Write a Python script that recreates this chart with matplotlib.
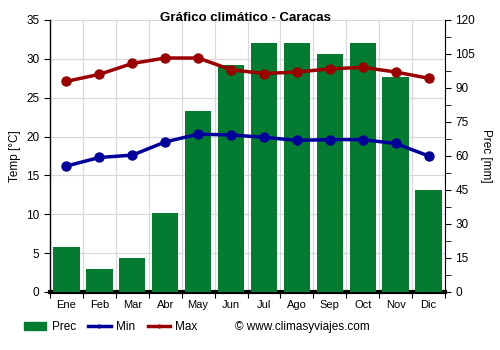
import numpy as np
import matplotlib.pyplot as plt
from matplotlib.lines import Line2D
from matplotlib.patches import Patch

plt.rcParams['font.family'] = ['Liberation Sans', 'DejaVu Sans']

months = ['Ene', 'Feb', 'Mar', 'Abr', 'May', 'Jun', 'Jul', 'Ago', 'Sep', 'Oct', 'Nov', 'Dic']
prec = [20, 10, 15, 35, 80, 100, 110, 110, 105, 110, 95, 45]
t_min = [16.2, 17.3, 17.6, 19.3, 20.3, 20.2, 19.9, 19.5, 19.6, 19.6, 19.1, 17.5]
t_max = [27.1, 28.0, 29.4, 30.1, 30.1, 28.6, 28.1, 28.3, 28.7, 28.9, 28.3, 27.5]

green = '#037b30'
blue = '#00009a'
red = '#9a0000'
grid_c = '#d9d9d9'

fig = plt.figure(figsize=(5, 3.5), dpi=100)
ax = fig.add_axes([0.1, 0.166, 0.79, 0.777])
ax2 = ax.twinx()

x = np.arange(len(months))

# grid and temperature scale on the left axes
ax.set_xlim(-0.5, 11.5)
ax.set_ylim(0, 35)
ax.set_yticks(range(0, 36, 5))
ax.set_xticks(np.arange(-0.5, 12, 1))
ax.set_xticklabels([])
ax.set_xticks(x, minor=True)
ax.set_xticklabels(months, minor=True)
ax.tick_params(axis='x', which='minor', length=0, labelsize=8, pad=6)
ax.tick_params(axis='x', which='major', length=4, color='black')
ax.tick_params(axis='y', labelsize=8.5, length=4)
ax.grid(True, color=grid_c, linewidth=0.9)
ax.set_axisbelow(True)
for s in ['top', 'right']:
    ax.spines[s].set_visible(False)
ax.spines['bottom'].set_linewidth(3)
ax.spines['left'].set_linewidth(1)
ax.set_ylabel('Temp [°C]', fontsize=8.5)

# precipitation bars on the right axes
ax2.bar(x, prec, width=0.8, color=green, zorder=2)
ax2.set_ylim(0, 120)
ax2.set_yticks(range(0, 121, 15))
ax2.set_yticks(np.arange(7.5, 120, 15), minor=True)
ax2.tick_params(axis='y', which='both', length=4, labelsize=8.5)
for s in ['top', 'left', 'bottom']:
    ax2.spines[s].set_visible(False)
ax2.set_ylabel('Prec [mm]', fontsize=8.5, rotation=270, labelpad=12)

# temperature lines drawn above the bars in the left data coords
ax2.plot(x, t_max, color=red, lw=2.5, marker='o', ms=6.5, transform=ax.transData, zorder=3, clip_on=False)
ax2.plot(x, t_min, color=blue, lw=2.5, marker='o', ms=6.5, transform=ax.transData, zorder=3, clip_on=False)
ax2.set_xlim(-0.5, 11.5)

fig.text(0.49, 0.948, 'Gráfico climático - Caracas', ha='center', va='center',
         fontsize=9.5, fontweight='bold')

handles = [Patch(color=green, label='Prec'),
           Line2D([], [], color=blue, lw=2.5, marker='o', ms=2, label='Min'),
           Line2D([], [], color=red, lw=2.5, marker='o', ms=2, label='Max')]
fig.legend(handles=handles, loc='center left', bbox_to_anchor=(0.048, 0.065), ncol=3,
           frameon=False, fontsize=8.5, handlelength=1.9, columnspacing=1.05,
           handletextpad=0.45, borderpad=0, borderaxespad=0)
fig.text(0.47, 0.065, '© www.climasyviajes.com', va='center', fontsize=8.5)

fig.savefig('out.png', dpi=100)
